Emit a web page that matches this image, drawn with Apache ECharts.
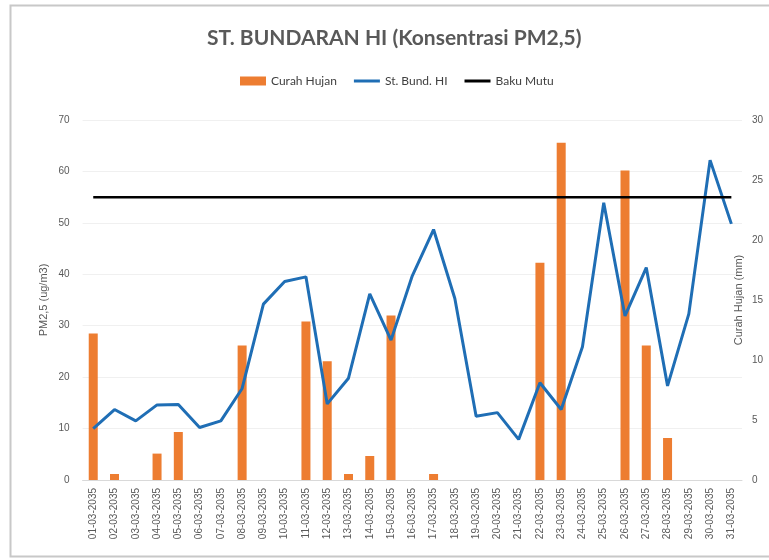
<!DOCTYPE html>
<html>
<head>
<meta charset="utf-8">
<script src="https://cdn.jsdelivr.net/npm/echarts@6/dist/echarts.min.js"></script>
<style>
    html, body { margin: 0; padding: 0; background: #fff; }
    #chart { width: 769px; height: 560px; }
</style>
</head>
<body>
<div id="chart"></div>
<script>
    // tanggal pengukuran
    var tanggal = [
        '01-03-2035', '02-03-2035', '03-03-2035', '04-03-2035', '05-03-2035', '06-03-2035',
        '07-03-2035', '08-03-2035', '09-03-2035', '10-03-2035', '11-03-2035', '12-03-2035',
        '13-03-2035', '14-03-2035', '15-03-2035', '16-03-2035', '17-03-2035', '18-03-2035',
        '19-03-2035', '20-03-2035', '21-03-2035', '22-03-2035', '23-03-2035', '24-03-2035',
        '25-03-2035', '26-03-2035', '27-03-2035', '28-03-2035', '29-03-2035', '30-03-2035',
        '31-03-2035'
    ]
    // curah hujan (mm) - sumbu kanan
    var curahHujan = [
        12.2, 0.5, 0, 2.2, 4.0, 0, 0, 11.2, 0, 0, 13.2, 9.9, 0.5, 2.0, 13.7, 0,
        0.5, 0, 0, 0, 0, 18.1, 28.1, 0, 0, 25.8, 11.2, 3.5, 0, 0, 0
    ]
    // konsentrasi PM2,5 (ug/m3) - sumbu kiri
    var stBundHI = [
        10.0, 13.7, 11.5, 14.6, 14.7, 10.2, 11.5, 17.8, 34.2, 38.6, 39.5, 14.8, 19.8, 36.2, 27.2, 39.7,
        48.7, 35.3, 12.4, 13.1, 7.9, 18.9, 13.7, 25.9, 53.9, 31.9, 41.3, 18.3, 32.3, 62.2, 49.8
    ]
    // baku mutu
    var bakuMutu = tanggal.map(function () { return 55 })

    var chart = echarts.init(document.getElementById('chart'))
    chart.setOption({
        animation: false,
        backgroundColor: '#fff',
        textStyle: { fontFamily: 'Liberation Sans' },
        graphic: [
            {
                type: 'rect',
                left: 8,
                top: 3,
                shape: { width: 800, height: 551 },
                style: { fill: 'none', stroke: '#c8c8c8', lineWidth: 2 }
            }
        ],
        title: {
            text: 'ST. BUNDARAN HI (Konsentrasi PM2,5)',
            left: 202,
            top: 23,
            textStyle: {
                fontFamily: 'Lato',
                fontWeight: 'bold',
                fontSize: 21,
                color: '#595959'
            }
        },
        legend: {
            top: 70,
            left: 235,
            itemGap: 17,
            itemWidth: 26,
            itemHeight: 9,
            textStyle: { fontFamily: 'Lato', fontSize: 12, color: '#404040' },
            data: [
                { name: 'Curah Hujan', icon: 'rect' },
                { name: 'St. Bund. HI', icon: 'path://M0,0H26V3H0Z' },
                { name: 'Baku Mutu', icon: 'path://M0,0H26V3H0Z' }
            ]
        },
        grid: {
            left: 82.6,
            right: 27,
            top: 120,
            bottom: 80,
            containLabel: false,
            outerBoundsMode: 'none'
        },
        xAxis: [
            {
                type: 'category',
                data: tanggal,
                axisTick: { show: false },
                axisLine: { lineStyle: { color: '#d9d9d9', width: 1 } },
                axisLabel: {
                    rotate: 90,
                    margin: 8,
                    fontSize: 10,
                    color: '#595959',
                    interval: 0
                }
            }
        ],
        yAxis: [
            {
                type: 'value',
                min: 0,
                max: 70,
                interval: 10,
                name: 'PM2,5 (ug/m3)',
                nameLocation: 'middle',
                nameGap: 33,
                nameMoveOverlap: false,
                nameTextStyle: { fontSize: 11, color: '#595959' },
                axisLine: { show: false },
                axisTick: { show: false },
                axisLabel: { fontSize: 10, color: '#595959', margin: 13 },
                splitLine: { lineStyle: { color: '#f0f0f0' } }
            },
            {
                type: 'value',
                min: 0,
                max: 30,
                interval: 5,
                name: 'Curah Hujan (mm)',
                nameLocation: 'middle',
                nameGap: -9,
                nameMoveOverlap: false,
                nameTextStyle: { fontSize: 11, color: '#595959' },
                axisLine: { show: false },
                axisTick: { show: false },
                axisLabel: { fontSize: 10, color: '#595959', margin: 10 },
                splitLine: { show: false }
            }
        ],
        series: [
            {
                name: 'Curah Hujan',
                type: 'bar',
                yAxisIndex: 1,
                barWidth: 9,
                itemStyle: { color: '#ED7D31' },
                data: curahHujan
            },
            {
                name: 'St. Bund. HI',
                type: 'line',
                yAxisIndex: 0,
                symbol: 'none',
                lineStyle: { color: '#1F6EB5', width: 3 },
                itemStyle: { color: '#1F6EB5' },
                data: stBundHI
            },
            {
                name: 'Baku Mutu',
                type: 'line',
                yAxisIndex: 0,
                symbol: 'none',
                lineStyle: { color: '#000', width: 2.5 },
                itemStyle: { color: '#000' },
                data: bakuMutu
            }
        ]
    })
</script>
</body>
</html>
